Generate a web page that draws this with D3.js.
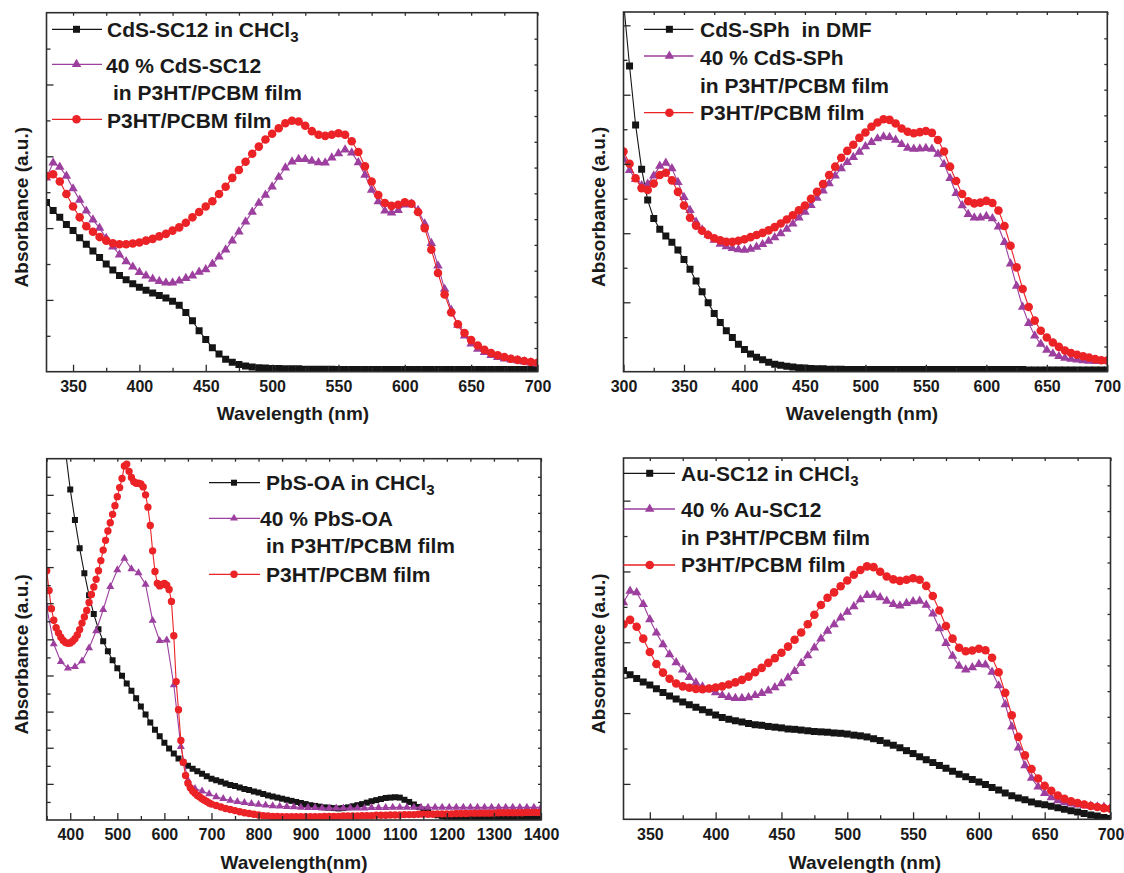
<!DOCTYPE html>
<html><head><meta charset="utf-8">
<script src="https://cdn.jsdelivr.net/npm/d3@7"></script>
<style>
body{margin:0;background:#fff}
svg{display:block}
text{font-family:"Liberation Sans",Arial,sans-serif;font-weight:bold;fill:#1a1a1a}
</style>
</head><body>
<svg id="c" width="1124" height="873"></svg>
<script>
// ---------- Panel 1: CdS-SC12 ----------
const P1_wl = [330,335,340,345,350,355,360,365,370,375,380,385,390,395,400,405,410,415,420,425,430,435,440,445,450,455,460,465,470,475,480,485,490,495,500,505,510,515,520,525,530,535,540,545,550,555,560,565,570,575,580,585,590,595,600,605,610,615,620,625,630,635,640,645,650,655,660,665,670,675,680,685,690,695,700];
const P1_black = [.471,.449,.43,.41,.393,.373,.355,.336,.318,.3,.283,.268,.256,.245,.235,.227,.219,.212,.205,.196,.185,.165,.142,.114,.09,.067,.049,.035,.026,.02,.016,.013,.011,.01,.009,.009,.008,.008,.008,.007,.007,.007,.007,.007,.006,.006,.006,.006,.006,.006,.006,.006,.006,.006,.006,.006,.006,.006,.006,.006,.006,.006,.006,.006,.006,.006,.006,.006,.006,.006,.006,.006,.006,.006,.006];
const P1_purple = [.54,.582,.57,.545,.51,.478,.448,.423,.40,.372,.348,.326,.307,.292,.277,.267,.258,.252,.248,.248,.253,.26,.267,.278,.285,.3,.32,.34,.365,.39,.418,.445,.47,.492,.515,.542,.568,.585,.592,.592,.587,.583,.582,.596,.608,.618,.61,.583,.548,.506,.474,.448,.443,.45,.465,.467,.45,.412,.358,.295,.23,.172,.13,.1,.078,.063,.054,.046,.04,.036,.033,.031,.028,.025,.022];
const P1_red = [.545,.55,.53,.495,.46,.43,.405,.39,.375,.365,.358,.355,.355,.357,.36,.365,.37,.377,.384,.393,.402,.415,.43,.445,.46,.475,.495,.515,.54,.562,.585,.607,.627,.647,.663,.678,.692,.699,.697,.685,.67,.66,.657,.66,.664,.66,.642,.612,.572,.53,.492,.47,.462,.465,.472,.468,.445,.4,.34,.275,.215,.165,.132,.108,.088,.073,.061,.052,.046,.041,.036,.033,.03,.027,.025];
const P1_xLabels = [350,400,450,500,550,600,650,700];

// ---------- Panel 2: CdS-SPh ----------
const P2_wl = [300,305,310,315,320,325,330,335,340,345,350,355,360,365,370,375,380,385,390,395,400,405,410,415,420,425,430,435,440,445,450,455,460,465,470,475,480,485,490,495,500,505,510,515,520,525,530,535,540,545,550,555,560,565,570,575,580,585,590,595,600,605,610,615,620,625,630,635,640,645,650,655,660,665,670,675,680,685,690,695,700];
const P2_black = [1.03,.85,.686,.563,.477,.426,.396,.377,.36,.338,.312,.285,.252,.222,.192,.162,.137,.114,.095,.076,.062,.049,.04,.033,.026,.021,.018,.015,.013,.011,.01,.009,.008,.008,.007,.007,.007,.006,.006,.006,.006,.006,.006,.006,.006,.006,.006,.006,.006,.006,.006,.006,.006,.006,.006,.006,.006,.006,.006,.006,.006,.006,.006,.006,.006,.006,.006,.005,.005,.005,.005,.005,.005,.005,.005,.005,.005,.005,.005,.005,.005];
const P2_purple = [.59,.56,.535,.518,.522,.545,.572,.58,.565,.527,.485,.449,.416,.395,.38,.366,.355,.348,.343,.34,.338,.341,.347,.354,.363,.373,.384,.397,.411,.428,.444,.463,.483,.503,.523,.545,.565,.582,.596,.611,.626,.638,.648,.653,.652,.644,.632,.622,.619,.62,.621,.619,.605,.577,.538,.496,.462,.438,.428,.428,.432,.426,.403,.36,.3,.238,.18,.135,.1,.077,.06,.05,.043,.038,.035,.033,.031,.03,.029,.029,.029];
const P2_red = [.612,.578,.538,.51,.505,.523,.547,.553,.532,.5,.462,.428,.406,.392,.38,.371,.365,.361,.361,.364,.368,.374,.38,.386,.393,.402,.412,.423,.435,.449,.462,.481,.5,.522,.547,.57,.595,.614,.631,.65,.665,.681,.693,.702,.7,.69,.676,.667,.663,.666,.669,.664,.644,.612,.57,.53,.494,.474,.468,.47,.475,.469,.448,.405,.35,.29,.23,.18,.142,.114,.095,.081,.069,.059,.052,.047,.043,.039,.035,.032,.031];
const P2_xLabels = [300,350,400,450,500,550,600,650,700];

// ---------- Panel 3: PbS-OA ----------
const P3_black_wl = [390,400,410,420,430,440,450,460,470,480,490,500,510,520,530,540,550,560,570,580,590,600,610,620,630,640,650,660,670,680,690,700,710,720,730,740,750,760,770,780,790,800,810,820,830,840,850,860,870,880,890,900,910,920,930,940,950,960,970,980,990,1000,1010,1020,1030,1040,1050,1060,1070,1080,1090,1100,1110,1120,1130,1140,1150,1160,1170,1180,1190,1200,1210,1220,1230,1240,1250,1260,1270,1280,1290,1300,1310,1320,1330,1340,1350,1360,1370,1380,1390,1400];
const P3_black = [1.02,.915,.83,.752,.683,.622,.57,.528,.495,.467,.442,.42,.399,.378,.358,.337,.314,.292,.27,.25,.232,.214,.198,.184,.17,.16,.15,.142,.135,.128,.121,.114,.11,.106,.101,.097,.094,.09,.086,.083,.079,.076,.072,.068,.065,.062,.059,.056,.053,.05,.047,.044,.041,.039,.037,.035,.034,.033,.032,.033,.035,.038,.041,.044,.048,.052,.055,.058,.061,.062,.063,.062,.056,.05,.043,.036,.029,.023,.017,.013,.01,.008,.007,.006,.005,.005,.005,.005,.005,.005,.005,.005,.005,.005,.005,.005,.004,.004,.004,.004,.004,.004];
const P3_purple_wl = [350,365,380,395,410,425,440,455,470,485,500,515,530,545,560,575,590,605,620,635,650,665,680,695,710,725,740,755,770,785,800,815,830,845,860,875,890,905,920,935,950,965,980,995,1010,1025,1040,1055,1070,1085,1100,1115,1130,1145,1160,1175,1190,1205,1220,1235,1250,1265,1280,1295,1310,1325,1340,1355,1370,1385,1400];
const P3_purple = [.59,.487,.438,.42,.424,.44,.476,.523,.582,.646,.692,.724,.695,.684,.652,.552,.496,.498,.374,.203,.11,.087,.08,.072,.064,.059,.054,.051,.048,.045,.043,.041,.039,.038,.037,.036,.035,.034,.034,.033,.033,.033,.033,.033,.033,.033,.034,.034,.034,.035,.035,.035,.035,.035,.035,.035,.035,.035,.035,.035,.035,.035,.035,.035,.035,.035,.035,.035,.035,.035,.035];
const P3_red_wl = [350,355,360,365,370,375,380,385,390,395,400,405,410,415,420,425,430,435,440,445,450,455,460,465,470,475,480,485,490,495,500,505,510,515,520,525,530,535,540,545,550,555,560,565,570,575,580,585,590,595,600,605,610,615,620,625,630,635,640,645,650,655,660,665,670,675,680,685,690,695,700,710,720,730,740,750,760,770,780,790,800,810,820,830,840,850,860,870,880,890,900,910,920,930,940,950,960,970,980,990,1000,1010,1020,1030,1040,1050,1060,1070,1080,1090,1100,1110,1120,1130,1140,1150,1160,1170,1180,1190,1200,1210,1220,1230,1240,1250,1260,1270,1280,1290,1300,1310,1320,1330,1340,1350,1360,1370,1380,1390,1400];
const P3_red = [.69,.635,.585,.553,.532,.518,.506,.497,.491,.489,.49,.495,.502,.512,.527,.545,.562,.58,.602,.624,.645,.666,.69,.718,.747,.774,.8,.823,.846,.87,.895,.92,.945,.98,.985,.965,.948,.936,.932,.932,.93,.922,.9,.866,.815,.745,.688,.655,.648,.652,.655,.65,.638,.605,.51,.383,.305,.22,.16,.123,.102,.089,.08,.074,.068,.064,.059,.055,.051,.047,.044,.04,.036,.032,.029,.026,.023,.02,.018,.016,.014,.012,.011,.01,.01,.009,.009,.009,.009,.009,.009,.009,.009,.009,.01,.01,.01,.01,.011,.011,.011,.011,.012,.012,.012,.013,.013,.013,.014,.014,.014,.015,.015,.015,.016,.016,.016,.016,.017,.017,.017,.017,.018,.018,.018,.018,.019,.019,.019,.019,.019,.02,.02,.02,.02,.02,.02,.021,.021,.021,.021];
const P3_xLabels = [400,500,600,700,800,900,1000,1100,1200,1300,1400];

// ---------- Panel 4: Au-SC12 ----------
const P4_wl = [330,335,340,345,350,355,360,365,370,375,380,385,390,395,400,405,410,415,420,425,430,435,440,445,450,455,460,465,470,475,480,485,490,495,500,505,510,515,520,525,530,535,540,545,550,555,560,565,570,575,580,585,590,595,600,605,610,615,620,625,630,635,640,645,650,655,660,665,670,675,680,685,690,695,700];
const P4_black = [.412,.4,.39,.38,.372,.361,.351,.341,.333,.325,.317,.31,.303,.296,.289,.282,.277,.273,.269,.265,.262,.26,.257,.255,.253,.25,.249,.247,.245,.243,.242,.241,.239,.238,.236,.233,.231,.228,.223,.218,.211,.205,.198,.19,.182,.173,.165,.157,.149,.141,.133,.125,.118,.11,.103,.096,.088,.081,.073,.065,.059,.054,.048,.043,.04,.036,.032,.028,.024,.02,.016,.012,.009,.005,.002];
const P4_purple = [.6,.632,.628,.595,.553,.516,.484,.456,.434,.414,.393,.378,.367,.359,.351,.343,.338,.335,.335,.337,.343,.349,.356,.365,.376,.392,.41,.432,.453,.475,.5,.521,.539,.558,.574,.589,.608,.62,.621,.614,.604,.595,.591,.598,.603,.604,.593,.569,.528,.487,.452,.424,.414,.42,.429,.428,.408,.37,.318,.256,.198,.149,.114,.09,.072,.06,.052,.047,.043,.04,.038,.037,.035,.034,.032];
const P4_red = [.54,.552,.533,.5,.463,.43,.406,.389,.376,.368,.364,.361,.36,.362,.365,.368,.373,.379,.386,.395,.407,.419,.433,.446,.461,.478,.497,.517,.54,.566,.593,.613,.628,.645,.661,.677,.69,.7,.698,.685,.672,.664,.66,.663,.667,.663,.646,.618,.578,.535,.5,.475,.465,.467,.472,.468,.447,.407,.35,.288,.228,.177,.139,.113,.093,.079,.066,.057,.05,.045,.041,.037,.034,.031,.029];
const P4_xLabels = [350,400,450,500,550,600,650,700];

// ---------- styling ----------
const BLACK = "#151515", PURPLE = "#9d3f9f", RED = "#eb2226";

const panels = [
  { l:46.5, r:537.5, t:12.7, b:371.7, xDomain:[330,700], xMajorStep:50, xMinorStep:25, xLabels:P1_xLabels,
    yMajor:[.2,.4,.6,.8], yMinor:[.1,.3,.5,.7,.9], yRightStep:.0718, yRightStart:.066,
    ms:{sq:7, r:4.3, tri:9.5},
    series:[{wl:P1_wl,v:P1_black,c:BLACK,t:"sq"},{wl:P1_wl,v:P1_purple,c:PURPLE,t:"tri"},{wl:P1_wl,v:P1_red,c:RED,t:"ci"}],
    legend:{x1:52,x2:102,mx:76.5,rows:[29.3,64.3,119.3],
      texts:[{x:107,y:37.3,t:"CdS-SC12 in CHCl",sub:"3"},{x:106,y:72.7,t:"40 % CdS-SC12"},{x:113,y:100,t:"in P3HT/PCBM film"},{x:107,y:128,t:"P3HT/PCBM film"}]},
    ylab:{x:27.5}, xlab:{x:293,y:420,t:"Wavelength (nm)"} },
  { l:623.5, r:1107.3, t:12, b:371.7, xDomain:[300,700], xMajorStep:50, xMinorStep:25, xLabels:P2_xLabels,
    yMajor:[.193,.385,.578,.77,.963], yMinor:[.096,.289,.481,.674,.867], yRightStep:.0714, yRightStart:.07,
    ms:{sq:7, r:4.3, tri:9.5},
    series:[{wl:P2_wl,v:P2_black,c:BLACK,t:"sq"},{wl:P2_wl,v:P2_purple,c:PURPLE,t:"tri"},{wl:P2_wl,v:P2_red,c:RED,t:"ci"}],
    legend:{x1:644,x2:693.5,mx:669.4,rows:[29.3,56,112.7],
      texts:[{x:700,y:36.7,t:"CdS-SPh\u00a0 in DMF"},{x:700,y:65,t:"40 % CdS-SPh"},{x:700,y:92.7,t:"in P3HT/PCBM film"},{x:700,y:120,t:"P3HT/PCBM film"}]},
    ylab:{x:604.5}, xlab:{x:862,y:420,t:"Wavelength (nm)"} },
  { l:46.7, r:541, t:458.7, b:820, xDomain:[350,1400], xMajorStep:100, xMinorStep:50, xLabels:P3_xLabels,
    yMajor:[.1,.2,.3,.4,.5,.6,.7,.8,.9], yMinor:[.05,.15,.25,.35,.45,.55,.65,.75,.85,.95], yRightStep:.05, yRightStart:.05,
    ms:{sq:6, r:3.7, tri:8},
    series:[{wl:P3_black_wl,v:P3_black,c:BLACK,t:"sq"},{wl:P3_purple_wl,v:P3_purple,c:PURPLE,t:"tri"},{wl:P3_red_wl,v:P3_red,c:RED,t:"ci"}],
    legend:{x1:209,x2:260,mx:234,rows:[482.7,518.3,574.3],
      texts:[{x:266,y:490,t:"PbS-OA in CHCl",sub:"3"},{x:260,y:526,t:"40 % PbS-OA"},{x:266,y:553.3,t:"in P3HT/PCBM film"},{x:266,y:581.7,t:"P3HT/PCBM film"}]},
    ylab:{x:27.5}, xlab:{x:294,y:868.5,t:"Wavelength(nm)"} },
  { l:623.5, r:1110.5, t:458, b:819.3, xDomain:[330,700], xMajorStep:50, xMinorStep:25, xLabels:P4_xLabels,
    yMajor:[.098,.294,.49,.686,.882], yMinor:[.196,.392,.588,.784], yRightStep:.0712, yRightStart:.07,
    ms:{sq:7, r:4.3, tri:9.5},
    series:[{wl:P4_wl,v:P4_black,c:BLACK,t:"sq"},{wl:P4_wl,v:P4_purple,c:PURPLE,t:"tri"},{wl:P4_wl,v:P4_red,c:RED,t:"ci"}],
    legend:{x1:623.5,x2:675,mx:649.7,rows:[473.3,509,565],
      texts:[{x:681,y:480.7,t:"Au-SC12 in CHCl",sub:"3"},{x:681,y:516.7,t:"40 % Au-SC12"},{x:681,y:545,t:"in P3HT/PCBM film"},{x:681,y:572.3,t:"P3HT/PCBM film"}]},
    ylab:{x:604.5}, xlab:{x:865,y:868.5,t:"Wavelength (nm)"} }
];

const svg = d3.select("#c");

function symbolPath(type, ms) {
  if (type === "sq") return d3.symbol().type(d3.symbolSquare).size(ms.sq * ms.sq)();
  if (type === "ci") return d3.symbol().type(d3.symbolCircle).size(Math.PI * ms.r * ms.r)();
  return d3.symbol().type(d3.symbolTriangle).size(ms.tri * ms.tri * Math.sqrt(3) / 4)();
}

function ticksBetween(d0, d1, step) {
  const out = [];
  for (let v = Math.ceil(d0 / step) * step; v <= d1 + 1e-9; v += step) out.push(v);
  return out;
}

panels.forEach((P, idx) => {
  const g = svg.append("g");
  const x = d3.scaleLinear().domain(P.xDomain).range([P.l, P.r]);
  const y = d3.scaleLinear().domain([0, 1]).range([P.b, P.t]);
  const clipId = "clip" + idx;
  svg.append("clipPath").attr("id", clipId).append("rect")
    .attr("x", P.l).attr("y", P.t).attr("width", P.r - P.l).attr("height", P.b - P.t);

  const dg = g.append("g").attr("clip-path", `url(#${clipId})`);
  P.series.forEach(s => {
    const pts = s.wl.map((w, i) => [w, s.v[i]]);
    dg.append("path")
      .attr("d", d3.line().x(d => x(d[0])).y(d => y(d[1]))(pts))
      .attr("fill", "none").attr("stroke", s.c).attr("stroke-width", 1.1);
    const sp = symbolPath(s.t, P.ms);
    dg.append("g").selectAll("path").data(pts).enter().append("path")
      .attr("transform", d => `translate(${x(d[0])},${y(d[1])})`)
      .attr("d", sp).attr("fill", s.c);
  });

  // axes
  const majorX = ticksBetween(P.xDomain[0], P.xDomain[1], P.xMajorStep);
  const minorX = ticksBetween(P.xDomain[0], P.xDomain[1], P.xMinorStep).filter(v => majorX.indexOf(v) < 0);
  const styleAxis = a => { a.select(".domain").remove(); a.attr("color", "#2a2a2a"); a.selectAll("line").attr("stroke-width", 1.3); };

  const bMaj = g.append("g").attr("transform", `translate(0,${P.b})`)
    .call(d3.axisBottom(x).tickValues(majorX).tickSize(-7).tickPadding(9).tickFormat(d => P.xLabels.indexOf(d) >= 0 ? d : ""));
  styleAxis(bMaj);
  bMaj.selectAll("text").style("font-size", "16px").style("font-family", '"Liberation Sans",Arial,sans-serif').style("font-weight", "bold").style("fill", "#1a1a1a");
  const bMin = g.append("g").attr("transform", `translate(0,${P.b})`)
    .call(d3.axisBottom(x).tickValues(minorX).tickSize(-4).tickFormat(""));
  styleAxis(bMin);

  const tMaj = g.append("g").attr("transform", `translate(0,${P.t})`)
    .call(d3.axisTop(x).tickValues(majorX.concat(minorX)).tickSize(-3).tickFormat(""));
  styleAxis(tMaj);

  const lMaj = g.append("g").attr("transform", `translate(${P.l},0)`)
    .call(d3.axisLeft(y).tickValues(P.yMajor).tickSize(-7).tickFormat(""));
  styleAxis(lMaj);
  const lMin = g.append("g").attr("transform", `translate(${P.l},0)`)
    .call(d3.axisLeft(y).tickValues(P.yMinor).tickSize(-4).tickFormat(""));
  styleAxis(lMin);

  const rVals = ticksBetween(P.yRightStart, 0.999, P.yRightStep).map((v, i) => P.yRightStart + i * P.yRightStep).filter(v => v < 0.995);
  const rAx = g.append("g").attr("transform", `translate(${P.r},0)`)
    .call(d3.axisRight(y).tickValues(rVals).tickSize(-3).tickFormat(""));
  styleAxis(rAx);

  // frame
  g.append("rect").attr("x", P.l).attr("y", P.t).attr("width", P.r - P.l).attr("height", P.b - P.t)
    .attr("fill", "none").attr("stroke", "#2e2e2e").attr("stroke-width", 1.6);

  // legend
  const L = P.legend;
  L.rows.forEach((ry, i) => {
    const s = P.series[i];
    g.append("line").attr("x1", L.x1).attr("x2", L.x2).attr("y1", ry).attr("y2", ry)
      .attr("stroke", s.c).attr("stroke-width", 1.3);
    g.append("path").attr("transform", `translate(${L.mx},${ry})`).attr("d", symbolPath(s.t, P.ms)).attr("fill", s.c);
  });
  L.texts.forEach(tt => {
    const te = g.append("text").attr("x", tt.x).attr("y", tt.y).style("font-size", "21px").text(tt.t);
    if (tt.sub) te.append("tspan").attr("dy", 5).style("font-size", "15px").text(tt.sub);
  });

  // axis titles
  const yc = (P.t + P.b) / 2 + 15;
  g.append("text").attr("transform", `translate(${P.ylab.x},${yc}) rotate(-90)`)
    .attr("text-anchor", "middle").style("font-size", "19px").text("Absorbance (a.u.)");
  g.append("text").attr("x", P.xlab.x).attr("y", P.xlab.y).attr("text-anchor", "middle")
    .style("font-size", "19px").text(P.xlab.t);
});
</script>
</body></html>
